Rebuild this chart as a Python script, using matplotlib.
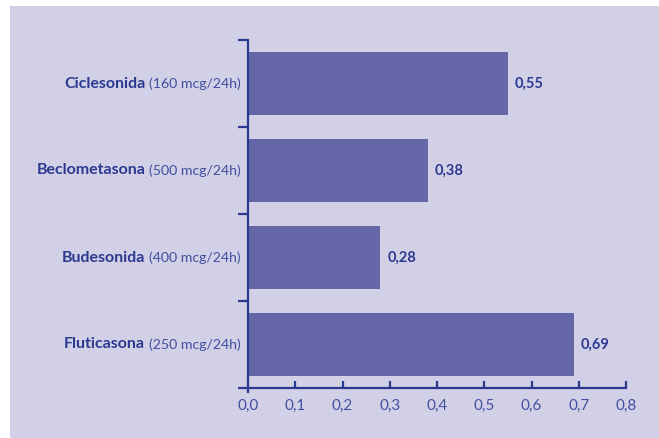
import matplotlib
matplotlib.use('Agg')
import matplotlib.pyplot as plt
from matplotlib.patches import Rectangle
import numpy as np

names = ['Ciclesonida', 'Beclometasona', 'Budesonida', 'Fluticasona']
doses = ['(160 mcg/24h)', '(500 mcg/24h)', '(400 mcg/24h)', '(250 mcg/24h)']
values = [0.55, 0.38, 0.28, 0.69]
value_labels = ['0,55', '0,38', '0,28', '0,69']
xticks = [0.0, 0.1, 0.2, 0.3, 0.4, 0.5, 0.6, 0.7, 0.8]
xtick_labels = ['0,0', '0,1', '0,2', '0,3', '0,4', '0,5', '0,6', '0,7', '0,8']

bg = '#d2d0e6'
bar_color = '#6566a8'
dark = '#2b3990'
light = '#4150a0'
font = ['Lato', 'DejaVu Sans']

fig = plt.figure(figsize=(6.59, 4.38), dpi=100)
fig.patch.set_facecolor('white')
fig.patches.append(Rectangle((10/659, 0), 1, (438-6)/438, transform=fig.transFigure,
                             facecolor=bg, edgecolor='none', zorder=-5))

ax = fig.add_axes([248/659, 50/438, 378/659, 348/438])
ax.set_facecolor('none')

y = np.arange(len(names))
ax.barh(y, values, height=0.72, color=bar_color, zorder=2)
ax.set_xlim(0, 0.8)
ax.set_ylim(len(names) - 0.5, -0.5)

for sp in ['top', 'right']:
    ax.spines[sp].set_visible(False)
for sp in ['left', 'bottom']:
    ax.spines[sp].set_color(dark)
    ax.spines[sp].set_linewidth(1.6)

ax.set_xticks(xticks)
ax.set_xticklabels(xtick_labels, family=font, fontsize=11, color=light)
ax.tick_params(axis='x', direction='in', length=5, width=1.6, color=dark, pad=8)

ax.set_yticks(np.arange(len(names) + 1) - 0.5)
ax.set_yticklabels([])
ax.tick_params(axis='y', direction='out', length=7, width=1.6, color=dark)

# small stub of the y axis below the x axis
ax.plot([0, 0], [len(names) - 0.5, len(names) - 0.5 + 0.05], color=dark, lw=1.6,
        clip_on=False, zorder=3)

for i, v in enumerate(values):
    ax.annotate(value_labels[i], xy=(v, i), xytext=(5, 0), textcoords='offset points',
                ha='left', va='center', fontsize=10.5, fontweight='bold', color=dark, family=font)

fig.canvas.draw()
renderer = fig.canvas.get_renderer()
for i in range(len(names)):
    t = ax.annotate(doses[i], xy=(0, i), xytext=(-5, 0), textcoords='offset points',
                    ha='right', va='center', fontsize=10.2, color=light, family=font,
                    annotation_clip=False)
    bb = t.get_window_extent(renderer)
    x0 = ax.transData.inverted().transform((bb.x0, bb.y0))[0]
    ax.annotate(names[i], xy=(x0, i), xytext=(-3, 0), textcoords='offset points',
                ha='right', va='center', fontsize=11.5, fontweight='bold', color=dark,
                family=font, annotation_clip=False)

fig.savefig('out.png', dpi=100)
